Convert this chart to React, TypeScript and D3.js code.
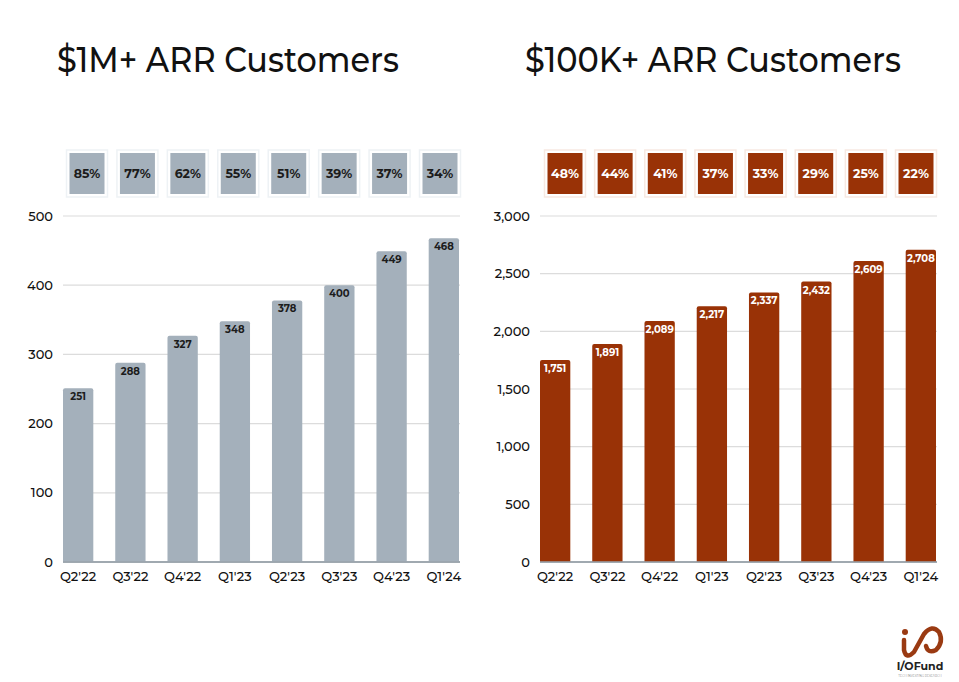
import React from "react";
import * as d3 from "d3";

const categories = ["Q2'22", "Q3'22", "Q4'22", "Q1'23", "Q2'23", "Q3'23", "Q4'23", "Q1'24"];
const millionCustomers = [251, 288, 327, 348, 378, 400, 449, 468];
const millionGrowth = ["85%", "77%", "62%", "55%", "51%", "39%", "37%", "34%"];
const hundredKCustomers = [1751, 1891, 2089, 2217, 2337, 2432, 2609, 2708];
const hundredKGrowth = ["48%", "44%", "41%", "37%", "33%", "29%", "25%", "22%"];
const millionTicks = [0, 100, 200, 300, 400, 500];
const hundredKTicks = [0, 500, 1000, 1500, 2000, 2500, 3000];

const FONT = "Montserrat, 'Open Sans', 'DejaVu Sans', sans-serif";

type PanelProps = {
  title: string;
  titleX: number;
  titleLen: number;
  values: number[];
  growth: string[];
  ticks: number[];
  yMax: number;
  xRange: [number, number];
  boxRange: [number, number];
  color: string;
  halo: string;
  boxText: string;
  barText: string;
  tickFormat: (v: number) => string;
};

function Panel(p: PanelProps) {
  const x = d3.scaleBand<string>().domain(categories).range(p.xRange).paddingInner(0.42).paddingOuter(0);
  const y = d3.scaleLinear().domain([0, p.yMax]).range([562, 216]);
  const bx = d3.scalePoint<string>().domain(categories).range(p.boxRange);
  const boxW = 35;
  const boxTop = 153;
  const boxH = 41;
  return (
    <g>
      <text x={p.titleX} y={72} fontFamily={FONT} fontWeight={500} fontSize={36} fill="#111" textLength={p.titleLen} lengthAdjust="spacingAndGlyphs">
        {p.title}
      </text>
      {p.growth.map((g, i) => {
        const cx = bx(categories[i])!;
        return (
          <g key={"b" + i}>
            <rect x={cx - boxW / 2 - 3} y={boxTop - 3} width={boxW + 6} height={boxH + 6} fill="none" stroke={p.halo} strokeWidth={1.5} />
            <rect x={cx - boxW / 2} y={boxTop} width={boxW} height={boxH} fill={p.color} />
            <text x={cx} y={boxTop + boxH / 2 + 4.5} textAnchor="middle" fontFamily={FONT} fontWeight={700} fontSize={12.5} fill={p.boxText}>
              {g}
            </text>
          </g>
        );
      })}
      {p.ticks.map((t) => (
        <g key={"t" + t}>
          <line x1={p.xRange[0]} x2={p.xRange[1] + 1} y1={y(t)} y2={y(t)} stroke={t === 0 ? "#9aa3ab" : "#dcdcdc"} strokeWidth={t === 0 ? 1.5 : 1.2} />
          <text x={p.xRange[0] - 10} y={y(t) + 4.5} textAnchor="end" fontFamily={FONT} fontWeight={500} fontSize={13} fill="#111">
            {p.tickFormat(t)}
          </text>
        </g>
      ))}
      {p.values.map((v, i) => {
        const c = categories[i];
        const x0 = x(c)!;
        const w = x.bandwidth();
        return (
          <g key={"v" + i}>
            <path
              d={`M${x0},${y(0)} V${y(v) + 2} Q${x0},${y(v)} ${x0 + 2},${y(v)} H${x0 + w - 2} Q${x0 + w},${y(v)} ${x0 + w},${y(v) + 2} V${y(0)} Z`}
              fill={p.color}
            />
            <text x={x0 + w / 2} y={y(v) + 12} textAnchor="middle" fontFamily={FONT} fontWeight={700} fontSize={10} fill={p.barText}>
              {p.tickFormat(v)}
            </text>
          </g>
        );
      })}
      <line x1={p.xRange[0]} x2={p.xRange[1] + 1} y1={y(0)} y2={y(0)} stroke="#9aa3ab" strokeWidth={1.5} />
      {categories.map((c) => (
        <text key={"x" + c} x={x(c)! + x.bandwidth() / 2} y={581} textAnchor="middle" fontFamily={FONT} fontWeight={500} fontSize={13} fill="#111">
          {c}
        </text>
      ))}
    </g>
  );
}

function Logo() {
  const brown = "#9a3a12";
  return (
    <g>
      <circle cx={905} cy={632} r={3} fill={brown} />
      <path d="M904,640 L904,650 Q906,660 914,652 L924,634 Q932,624 939,632 Q944,642 936,650 Q928,654 926,646" fill="none" stroke={brown} strokeWidth={4.5} strokeLinecap="round" />
      <text x={920} y={670} textAnchor="middle" fontFamily={FONT} fontWeight={700} fontSize={11} fill="#222">
        I/OFund
      </text>
      <text x={920} y={677} textAnchor="middle" fontFamily={FONT} fontSize={3} fill="#888">
        TECH INVESTING RESEARCH
      </text>
    </g>
  );
}

export default function App() {
  const fmt = d3.format(",");
  return (
    <svg width={959} height={682} style={{ position: "absolute", left: 0, top: 0, background: "#fff" }}>
      <rect width={959} height={682} fill="#fff" />
      <Panel
        title="$1M+ ARR Customers"
        titleX={57}
        titleLen={342}
        values={millionCustomers}
        growth={millionGrowth}
        ticks={millionTicks}
        yMax={500}
        xRange={[63, 459]}
        boxRange={[87, 440]}
        color="#a4b0bb"
        halo="#eef2f5"
        boxText="#1c1c1c"
        barText="#1c1c1c"
        tickFormat={fmt}
      />
      <Panel
        title="$100K+ ARR Customers"
        titleX={525}
        titleLen={376}
        values={hundredKCustomers}
        growth={hundredKGrowth}
        ticks={hundredKTicks}
        yMax={3000}
        xRange={[540, 936]}
        boxRange={[565, 916]}
        color="#993206"
        halo="#f7e9e2"
        boxText="#ffffff"
        barText="#ffffff"
        tickFormat={fmt}
      />
      <Logo />
    </svg>
  );
}
